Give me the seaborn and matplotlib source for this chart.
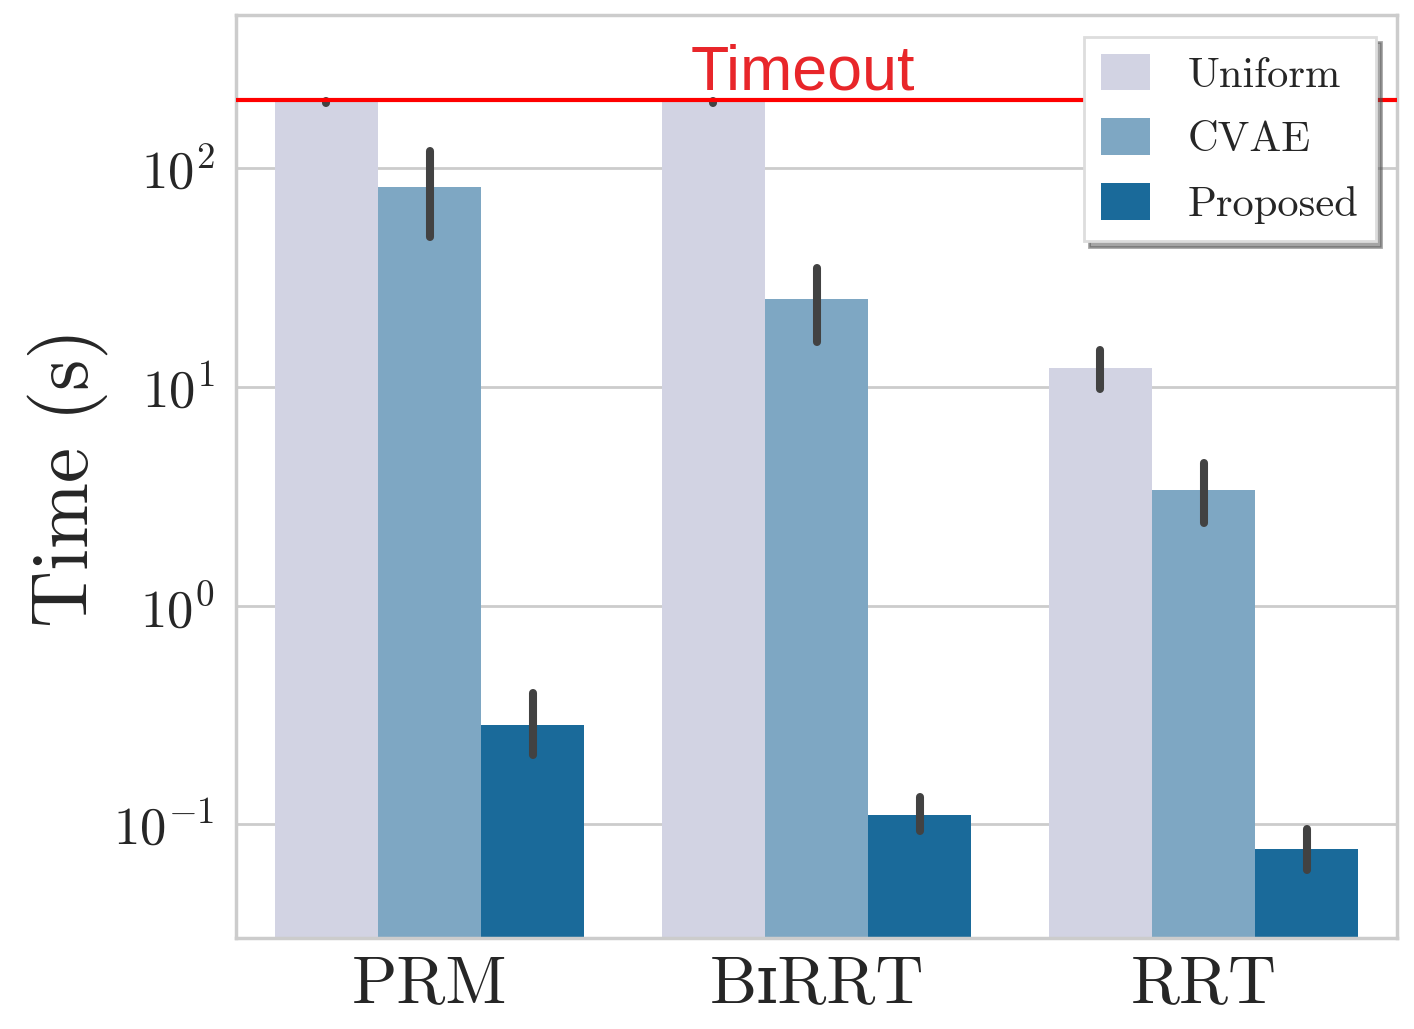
import pandas as pd
import matplotlib.pyplot as plt
import seaborn as sns

# values (seconds): mean and error bar limits
planners = ["PRM", "B\u026aRRT", "RRT"]
methods = ["Uniform", "CVAE", "Proposed"]
time_mean = {
    "Uniform": [200, 200, 12.2],
    "CVAE": [82, 25.2, 3.39],
    "Proposed": [0.283, 0.110, 0.077],
}
time_low = {
    "Uniform": [198, 198, 9.8],
    "CVAE": [48.4, 16.0, 2.39],
    "Proposed": [0.207, 0.093, 0.062],
}
time_high = {
    "Uniform": [202, 202, 14.8],
    "CVAE": [119.6, 34.9, 4.50],
    "Proposed": [0.397, 0.133, 0.095],
}
timeout = 205

# long-form table: low / mean / high per bar, median -> bar height, min/max -> error bar
rows = []
for m in methods:
    for i, p in enumerate(planners):
        for v in (time_low[m][i], time_mean[m][i], time_high[m][i]):
            rows.append({"planner": p, "method": m, "time": v})
df = pd.DataFrame(rows)

sns.set_theme(style="whitegrid")
plt.rcParams["font.family"] = ["cmr10", "DejaVu Serif"]
plt.rcParams["mathtext.fontset"] = "cm"
plt.rcParams["axes.formatter.use_mathtext"] = True

fig, ax = plt.subplots(figsize=(7.07, 5.145), dpi=200)
sns.barplot(
    data=df, x="planner", y="time", hue="method",
    order=planners, hue_order=methods, palette="PuBu",
    estimator="median", errorbar=lambda v: (v.min(), v.max()),
    err_kws={"linewidth": 2.9, "solid_capstyle": "round", "color": ".26"},
    linewidth=0, ax=ax,
)
ax.set_yscale("log")

ax.axhline(timeout, color="red", linewidth=1.5, zorder=5)
ax.text(0.965, timeout * 1.12, "Timeout", color="#e8262a", fontsize=22.6,
        family="Liberation Sans", ha="center", va="baseline", zorder=6)

ax.set_ylim(0.03, 500)
ax.set_xlim(-0.5, 2.5)
ax.set_xlabel("")
ax.set_ylabel("Time (s)", fontsize=28.5, labelpad=2)
ax.tick_params(axis="x", labelsize=24, pad=0)
ax.tick_params(axis="y", labelsize=19, pad=plt.rcParams["ytick.major.pad"] - 1.8)
ax.grid(axis="x", visible=False)
for s in ax.spines.values():
    s.set_color("#cccccc")

ax.legend(loc="upper right", fontsize=15.3, frameon=True, framealpha=1,
          fancybox=False, shadow=True, edgecolor="#dddddd",
          handlelength=1.15, handleheight=0.95, handletextpad=0.9,
          labelspacing=0.56)

plt.subplots_adjust(left=0.167, right=0.988, top=0.985, bottom=0.088)
plt.savefig("out.png", dpi=200)
